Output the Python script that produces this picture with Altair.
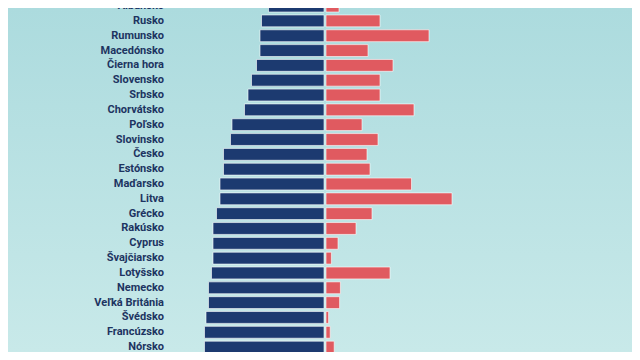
import altair as alt
import pandas as pd

countries = [
    "Albánsko", "Rusko", "Rumunsko", "Macedónsko", "Čierna hora", "Slovensko",
    "Srbsko", "Chorvátsko", "Poľsko", "Slovinsko", "Česko", "Estónsko",
    "Maďarsko", "Litva", "Grécko", "Rakúsko", "Cyprus", "Švajčiarsko",
    "Lotyšsko", "Nemecko", "Veľká Británia", "Švédsko", "Francúzsko", "Nórsko",
    "Fínsko",
]
blue_values = [27.75, 31.25, 32, 32, 33.75, 36.25, 38, 39.75, 46, 46.75, 50.25, 50.25,
               52, 52, 53.75, 55.5, 55.5, 55.5, 56.25, 57.75, 57.75, 59, 59.75, 59.75,
               61.5]
red_values = [6.5, 27, 51.5, 21, 33.5, 27, 27, 44, 18, 26, 20.5, 22,
              42.75, 63, 23, 15, 6, 2.7, 32, 7.2, 6.8, 1.3, 2.1, 4.1, 2.1]

df = pd.DataFrame({"country": countries, "blue": blue_values, "red": red_values})

W, H = 624, 344
xscale = alt.Scale(domain=[-158.5, 153.5], nice=False, zero=False)
yscale = alt.Scale(domain=[1.13, 24.33], nice=False, zero=False, reverse=True)

base = alt.Chart(df).transform_window(idx="row_number()").transform_calculate(
    ya="datum.idx - 0.4", yb="datum.idx + 0.4",
    bx1="-datum.blue - 0.5", bx2="-0.5",
    rx1="0.5", rx2="datum.red + 0.5",
)

bg = alt.Chart(pd.DataFrame({"a": [0]})).mark_rect(
    fill=alt.Gradient(
        gradient="linear",
        stops=[alt.GradientStop(color="#acdbde", offset=0),
               alt.GradientStop(color="#c8e9e9", offset=1)],
        x1=0, x2=0, y1=0, y2=1,
    )
).encode(x=alt.value(0), x2=alt.value(W), y=alt.value(0), y2=alt.value(H))

blue = base.mark_rect(
    color="#1c3a70", stroke="white", strokeOpacity=0.6, strokeWidth=1, clip=True
).encode(
    x=alt.X("bx1:Q", scale=xscale, axis=None), x2="bx2:Q",
    y=alt.Y("ya:Q", scale=yscale, axis=None), y2="yb:Q",
)

red = base.mark_rect(
    color="#e05a60", stroke="white", strokeOpacity=0.6, strokeWidth=1, clip=True
).encode(
    x=alt.X("rx1:Q", scale=xscale, axis=None), x2="rx2:Q",
    y=alt.Y("ya:Q", scale=yscale, axis=None), y2="yb:Q",
)

labels = base.mark_text(
    align="right", baseline="middle", font="Roboto", fontWeight="bold",
    fontSize=11, color="#1d3461", clip=True
).encode(
    x=alt.value(156),
    y=alt.Y("idx:Q", scale=yscale, axis=None),
    text="country:N",
)

chart = alt.layer(bg, blue, red, labels).properties(
    width=W, height=H, padding=0,
    autosize=alt.AutoSizeParams(type="none"),
).configure_view(stroke=None).configure(background="#b8e1e3")

chart.save("out.html", embed_options={"renderer": "svg", "actions": False})
